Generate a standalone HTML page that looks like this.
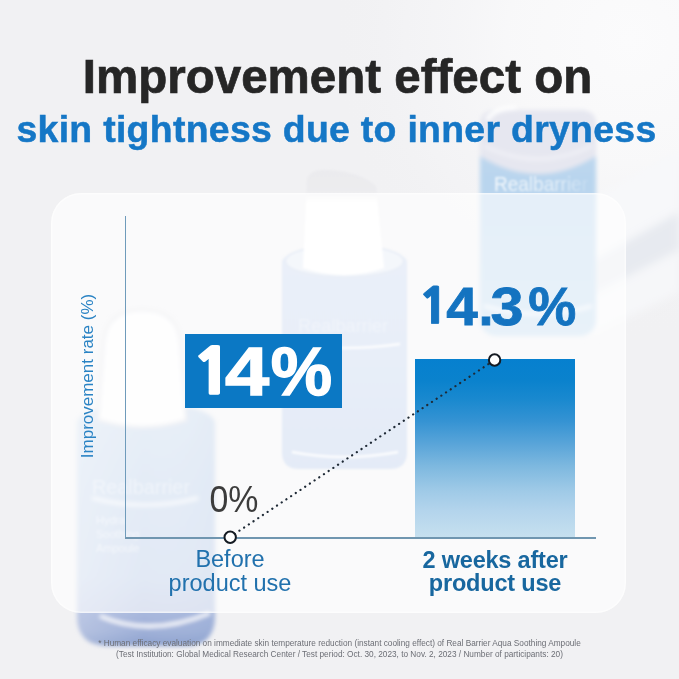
<!DOCTYPE html>
<html><head><meta charset="utf-8">
<style>
*{margin:0;padding:0;box-sizing:border-box}
html,body{width:679px;height:679px;overflow:hidden}
body{position:relative;background:linear-gradient(90deg,#eeeef0 0%,#f1f1f3 50%,#f6f7f9 100%);font-family:"Liberation Sans",Arial,sans-serif}
.abs{position:absolute}
#bg{position:absolute;left:0;top:0;width:679px;height:679px;overflow:hidden}
.blur{filter:blur(6px)}
#panel{position:absolute;left:51px;top:193px;width:575px;height:420px;border-radius:30px;background:rgba(255,255,255,0.62);box-shadow:inset 0 0 0 1.5px rgba(255,255,255,0.5)}
.t1{position:absolute;left:0;width:679px;text-align:center;white-space:nowrap;font-weight:700}
#title{top:51px;left:-2px;font-size:47.5px;color:#262626;line-height:52px;-webkit-text-stroke:0.7px #262626}
#sub{top:107px;left:-3px;font-size:37.4px;color:#1577c6;line-height:44px;letter-spacing:0.3px;-webkit-text-stroke:0.5px #1577c6}
#yaxis{position:absolute;left:124.6px;top:216px;width:1.4px;height:322px;background:#6f9bbb}
#xaxis{position:absolute;left:125px;top:537px;width:471px;height:2px;background:#7096b0}
#box14{position:absolute;left:185px;top:334px;width:157px;height:74px;background:#0b78c4}
#t14{position:absolute;left:0;top:334.5px;width:679px;height:74px;color:#fff;font-weight:700;font-size:69px;line-height:74px;-webkit-text-stroke:1.4px #fff}
#bar{position:absolute;left:415px;top:359px;width:160px;height:178px;background:linear-gradient(180deg,#0680cf 0%,#0a82cd 12%,#1a89cf 23%,#3593d3 35%,#5aa5d9 48%,#7db8df 60%,#9fcae7 74%,#b3d4ec 85%,#c6e0ef 100%)}
#t143{position:absolute;left:0;top:278px;width:679px;color:#1473c0;font-weight:700;font-size:54px;line-height:56px;-webkit-text-stroke:0.8px #1473c0}
.g{position:absolute;top:0;width:100px;text-align:center}
.n1{font-family:"NanumGothic","Liberation Sans",sans-serif;font-weight:800;font-size:0.89em}
#t0{position:absolute;left:180.5px;top:480px;width:106px;text-align:center;color:#3c3c3c;font-size:36px;line-height:40px;transform:scaleX(0.94)}
#lbl1{position:absolute;left:130px;top:547px;width:200px;text-align:center;color:#2171ad;font-size:23.5px;line-height:24px;letter-spacing:0px}
#lbl2{position:absolute;left:395px;top:548.5px;width:200px;text-align:center;color:#18679f;font-weight:700;font-size:23.5px;line-height:23.5px;letter-spacing:-0.2px}
#ylbl{position:absolute;left:88px;top:376px;width:0;height:0}
#ylbl span{position:absolute;left:0;top:0;transform:translate(-50%,-50%) rotate(-90deg);white-space:nowrap;color:#2a83c4;font-size:17px;line-height:20px}
#foot{position:absolute;left:0;top:637.6px;width:679px;text-align:center;color:#6c6e75;font-size:8.25px;line-height:11.8px}
</style></head><body>
<svg id="bg" width="679" height="679" style="position:absolute;left:0;top:0">
  <defs>
    <filter id="b1" x="-20%" y="-20%" width="140%" height="140%"><feGaussianBlur stdDeviation="1.2"/></filter>
    <filter id="b2" x="-20%" y="-20%" width="140%" height="140%"><feGaussianBlur stdDeviation="2.2"/></filter>
    <filter id="b4" x="-20%" y="-20%" width="140%" height="140%"><feGaussianBlur stdDeviation="4"/></filter>
    <filter id="b8" x="-30%" y="-30%" width="160%" height="160%"><feGaussianBlur stdDeviation="8"/></filter>
    <radialGradient id="glow" cx="630" cy="40" r="300" gradientUnits="userSpaceOnUse">
      <stop offset="0" stop-color="#fbfbfc"/><stop offset="0.4" stop-color="#f9f9fa" stop-opacity="0.9"/><stop offset="0.75" stop-color="#f5f5f7" stop-opacity="0.5"/><stop offset="1" stop-color="#f1f1f3" stop-opacity="0"/>
    </radialGradient>
    <linearGradient id="tfade" x1="494" y1="0" x2="590" y2="0" gradientUnits="userSpaceOnUse">
      <stop offset="0" stop-color="#ffffff" stop-opacity="0.85"/><stop offset="0.7" stop-color="#ffffff" stop-opacity="0.55"/><stop offset="1" stop-color="#ffffff" stop-opacity="0.1"/>
    </linearGradient>
    <linearGradient id="rbg" x1="0" y1="112" x2="0" y2="336" gradientUnits="userSpaceOnUse">
      <stop offset="0" stop-color="#c6dbef"/><stop offset="0.3" stop-color="#b9d5ee"/><stop offset="1" stop-color="#c2dbf0"/>
    </linearGradient>
    <linearGradient id="mbg" x1="0" y1="245" x2="0" y2="470" gradientUnits="userSpaceOnUse">
      <stop offset="0" stop-color="#c8d6ee"/><stop offset="0.5" stop-color="#c2d2ed"/><stop offset="1" stop-color="#b9cbea"/>
    </linearGradient>
    <linearGradient id="mcap" x1="0" y1="170" x2="0" y2="280" gradientUnits="userSpaceOnUse">
      <stop offset="0" stop-color="#ebebee"/><stop offset="0.2" stop-color="#ececef"/><stop offset="0.3" stop-color="#ffffff"/><stop offset="1" stop-color="#ffffff"/>
    </linearGradient>
    <linearGradient id="lbg" x1="0" y1="410" x2="0" y2="648" gradientUnits="userSpaceOnUse">
      <stop offset="0" stop-color="#c2d4ea"/><stop offset="0.3" stop-color="#b8cde8"/><stop offset="0.7" stop-color="#b2c5e4"/><stop offset="0.84" stop-color="#a9b8dd"/><stop offset="0.93" stop-color="#9fb0d8"/><stop offset="1" stop-color="#8a9fcc"/>
    </linearGradient>
    <linearGradient id="lbh" x1="73" y1="0" x2="214" y2="0" gradientUnits="userSpaceOnUse">
      <stop offset="0" stop-color="#ffffff" stop-opacity="0.25"/><stop offset="0.5" stop-color="#ffffff" stop-opacity="0"/><stop offset="1" stop-color="#7f9fd0" stop-opacity="0.12"/>
    </linearGradient>
  </defs>
  <rect width="679" height="679" fill="#f1f1f3"/>
  <rect width="679" height="679" fill="url(#glow)"/>
  <!-- right surface bands -->
  <g filter="url(#b4)">
    <polygon points="590,200 679,150 679,212 590,262" fill="#f7f8fa"/>
    <polygon points="590,262 679,212 679,250 590,296" fill="#e7eaf0"/>
    <polygon points="590,296 679,250 679,292 590,336" fill="#f6f7f9"/>
  </g>
  <!-- right bottle -->
  <g filter="url(#b2)">
    <rect x="480" y="110" width="116" height="226" rx="16" fill="url(#rbg)"/>
    <path d="M480,124 Q480,110 496,110 L580,110 Q596,110 596,124 L596,156 Q538,192 480,156 Z" fill="#e6e7f0"/>
    <path d="M487,120 Q494,108 516,108" stroke="#ffffff" stroke-width="4" fill="none"/>
    <path d="M484,146 Q538,172 592,146" stroke="#f1f1f7" stroke-width="3" fill="none"/>
    <path d="M484,306 Q538,322 592,306" stroke="#f2f6fb" stroke-width="3" fill="none"/>
  </g>
  <text x="494" y="191" font-family="Liberation Sans, sans-serif" font-size="21" fill="url(#tfade)" filter="url(#b1)" textLength="94" lengthAdjust="spacingAndGlyphs">Realbarrier</text>
  <!-- middle bottle -->
  <g filter="url(#b1)">
    <path d="M282,262 C282,242 407,242 407,262 L407,452 Q407,469 390,469 L299,469 Q282,469 282,452 Z" fill="url(#mbg)"/>
    <ellipse cx="344.5" cy="261" rx="59" ry="16" fill="#e3eaf5" stroke="#c8d5ea" stroke-width="2"/>
    <path d="M307,178 Q312,168 330,170 Q360,172 376,186 L384,268 Q344,282 303,268 Z" fill="url(#mcap)"/>
    <path d="M290,344 Q344,352 400,344" stroke="#f4f7fb" stroke-width="2.5" fill="none"/>
    <path d="M292,452 Q344,462 398,452" stroke="#f4f7fb" stroke-width="2.5" fill="none"/>
  </g>
  <text x="298" y="332" font-family="Liberation Sans, sans-serif" font-size="19" fill="#ffffff" opacity="0.35" filter="url(#b1)" textLength="90" lengthAdjust="spacingAndGlyphs">Realbarrier</text>
  <!-- left bottle -->
  <g filter="url(#b2)">
    <path d="M77,424 C77,396 215,396 215,424 L215,616 Q215,646 185,646 L109,646 Q77,646 77,616 Z" fill="url(#lbg)"/>
    <path d="M77,424 C77,396 215,396 215,424 L215,616 Q215,646 185,646 L109,646 Q77,646 77,616 Z" fill="url(#lbh)"/>
    <path d="M104,340 Q108,310 142,310 Q176,310 180,340 L186,420 Q143,434 98,420 Z" fill="#fcfcfd" stroke="#dfe0e6" stroke-width="2.5"/>
    <path d="M92,498 Q145,512 198,498" stroke="#f2f6fb" stroke-width="3" fill="none"/>
    <path d="M100,616 Q150,638 210,613" stroke="#ffffff" stroke-width="3.5" fill="none"/>
  </g>
  <text x="92" y="494" font-family="Liberation Sans, sans-serif" font-size="20" fill="#ffffff" opacity="0.4" filter="url(#b1)" textLength="98" lengthAdjust="spacingAndGlyphs">Realbarrier</text>
  <g font-family="Liberation Sans, sans-serif" font-size="11" fill="#ffffff" opacity="0.55" filter="url(#b1)">
    <text x="96" y="524">Hydra</text><text x="96" y="538">Soothing</text><text x="96" y="552">Ampoule</text>
  </g>
</svg>
<div id="panel"></div>
<div id="title" class="t1">Improvement effect on</div>
<div id="sub" class="t1">skin tightness due to inner dryness</div>
<div id="yaxis"></div>
<div id="xaxis"></div>
<div id="ylbl"><span>Improvement rate (%)</span></div>
<div id="box14"></div>
<div id="t14"><span class="g n1" style="left:162.5px;transform:scaleX(1.15)">1</span><span class="g" style="left:196.85px;transform:scaleX(1.15)">4</span><span class="g" style="left:251.55px">%</span></div>
<div id="t143"><span class="g n1" style="left:383.5px;transform:scaleX(1.1)">1</span><span class="g" style="left:411.8px;transform:scaleX(1.05)">4</span><span class="g" style="left:436px">.</span><span class="g" style="left:457.4px;transform:scaleX(1.1)">3</span><span class="g" style="left:502.3px">%</span></div>
<div id="bar"></div>
<svg class="abs" style="left:0;top:0" width="679" height="679">
  <line x1="230" y1="537" x2="494.5" y2="360" stroke="#1f2a36" stroke-width="2.2" stroke-dasharray="0.1 5.55" stroke-linecap="round"/>
  <circle cx="230.2" cy="537.3" r="5.7" fill="#fff" stroke="#141a22" stroke-width="2"/>
  <circle cx="494.6" cy="360" r="5.7" fill="#fff" stroke="#141a22" stroke-width="2"/>
</svg>
<div id="t0">0%</div>
<div id="lbl1">Before<br>product use</div>
<div id="lbl2">2 weeks after<br>product use</div>
<div id="foot">* Human efficacy evaluation on immediate skin temperature reduction (instant cooling effect) of Real Barrier Aqua Soothing Ampoule<br>(Test Institution: Global Medical Research Center / Test period: Oct. 30, 2023, to Nov. 2, 2023 / Number of participants: 20)</div>
</body></html>
